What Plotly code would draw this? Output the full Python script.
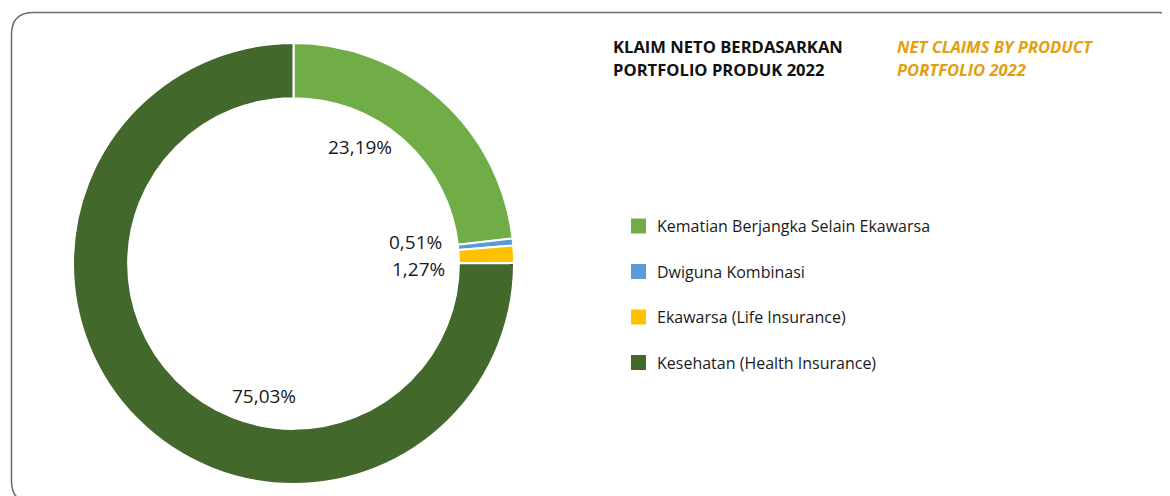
import plotly.graph_objects as go

categories = ["Kematian Berjangka Selain Ekawarsa", "Dwiguna Kombinasi",
              "Ekawarsa (Life Insurance)", "Kesehatan (Health Insurance)"]
values = [23.19, 0.51, 1.27, 75.03]
colors = ["#70AD47", "#5B9BD5", "#FFC000", "#43682B"]
title_id = ["KLAIM NETO BERDASARKAN", "PORTFOLIO PRODUK 2022"]
title_en = ["NET CLAIMS BY PRODUCT", "PORTFOLIO 2022"]

W, H = 1170, 496
FONT = "Open Sans"
OFF = 8  # page body margin offset


def px(x):
    return (x - OFF) / W


def py(y):
    return 1 - (y - OFF) / H


cx, cy, r = 293.5, 263.5, 220.5

fig = go.Figure(go.Pie(
    labels=categories, values=values, hole=0.75, sort=False,
    direction="clockwise", rotation=0,
    marker=dict(colors=colors, line=dict(color="white", width=2)),
    textinfo="none", hoverinfo="label+percent", showlegend=False,
    domain=dict(x=[px(cx - r), px(cx + r)], y=[py(cy + r), py(cy - r)]),
))


def fmt(v):
    return f"{v:.2f}".replace(".", ",") + "%"


# value labels inside the hole
label_pos = [(360, 147, "center"), (444, 242, "right"), (447, 269, "right"), (264, 396, "center")]
ann = []
for v, (x, y, anc) in zip(values, label_pos):
    ann.append(dict(x=px(x), y=py(y), xref="paper", yref="paper", text=fmt(v),
                    showarrow=False, xanchor=anc, yanchor="middle",
                    font=dict(family=FONT, size=19, color="#1a1a1a")))

# titles
for i, t in enumerate(title_id):
    ann.append(dict(x=px(611), y=py(47 + 22 * i), xref="paper", yref="paper",
                    text=f"<b>{t}</b>", showarrow=False, xanchor="left", yanchor="middle",
                    font=dict(family=FONT, size=16.6, color="#111111")))
for i, t in enumerate(title_en):
    ann.append(dict(x=px(895), y=py(47 + 22 * i), xref="paper", yref="paper",
                    text=f"<b><i>{t}</i></b>", showarrow=False, xanchor="left", yanchor="middle",
                    font=dict(family=FONT, size=16.6, color="#E59E0C")))

shapes = []
# legend (manual, to match spacing)
for i, (c, lab) in enumerate(zip(colors, categories)):
    yc = 226 + 45.5 * i
    shapes.append(dict(type="rect", xref="paper", yref="paper",
                       x0=px(631), x1=px(646), y0=py(yc - 7.5), y1=py(yc + 7.5),
                       fillcolor=c, line=dict(width=0)))
    ann.append(dict(x=px(655), y=py(yc), xref="paper", yref="paper", text=lab,
                    showarrow=False, xanchor="left", yanchor="middle",
                    font=dict(family=FONT, size=16, color="#1a1a1a")))

# rounded border
x0, y0, x1, y1, rr = 11.5, 12.5, 1180, 503, 22
path = (f"M {px(x0 + rr)},{py(y1)} Q {px(x0)},{py(y1)} {px(x0)},{py(y1 - rr)} "
        f"L {px(x0)},{py(y0 + rr)} "
        f"Q {px(x0)},{py(y0)} {px(x0 + rr)},{py(y0)} "
        f"L {px(x1 - rr)},{py(y0)} Q {px(x1)},{py(y0)} {px(x1)},{py(y0 + rr)} "
        f"L {px(x1)},{py(y1)}")
shapes.append(dict(type="path", xref="paper", yref="paper", path=path,
                   line=dict(color="#6b6b6b", width=1.5)))

fig.update_layout(width=W, height=H, margin=dict(l=0, r=0, t=0, b=0),
                  paper_bgcolor="white", plot_bgcolor="white",
                  annotations=ann, shapes=shapes)
fig.write_html("out.html")
